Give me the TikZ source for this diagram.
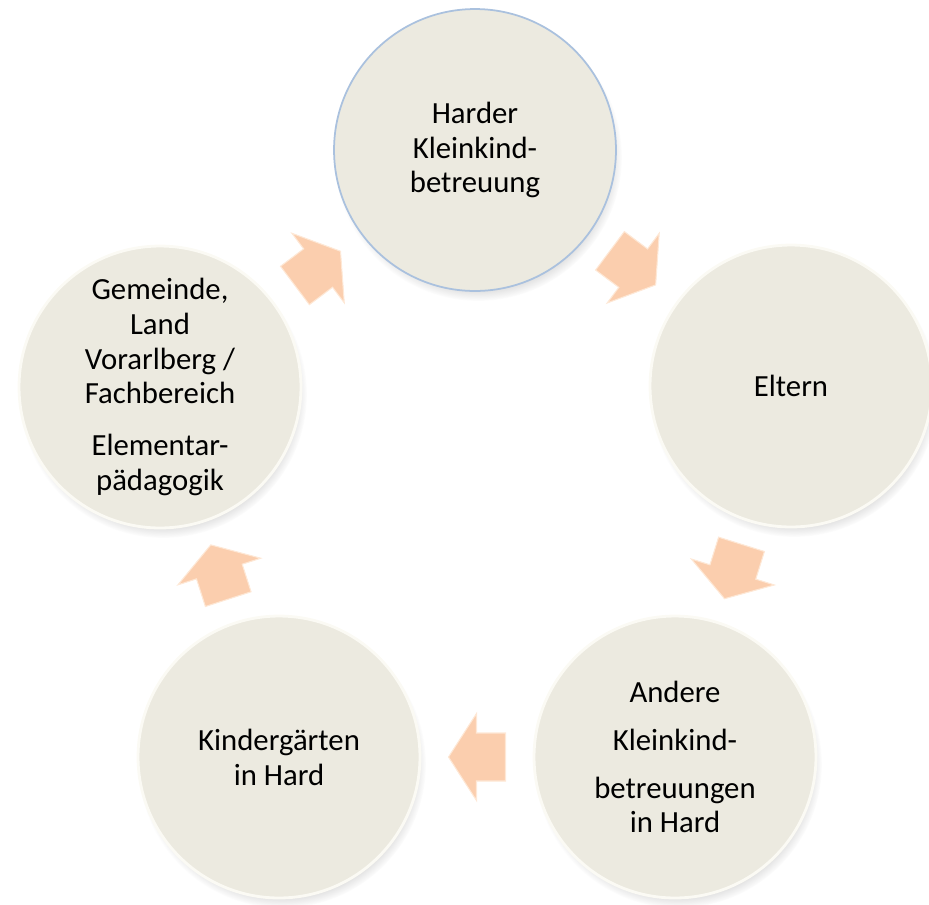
\documentclass[tikz,border=0pt]{standalone}
\usepackage{fontspec}
\setmainfont{Carlito}
\usetikzlibrary{shadows,calc,fadings}
\definecolor{circfill}{RGB}{236,234,224}
\definecolor{circrim}{RGB}{251,250,244}
\definecolor{toprim}{RGB}{170,193,222}
\definecolor{arrfill}{RGB}{251,206,174}
\definecolor{arrrim}{RGB}{254,232,214}
\begin{document}
\begin{tikzpicture}[x=0.02cm,y=-0.02cm,
  stage/.style={circle, minimum size=5.64cm, inner sep=0pt, fill=circfill,
    draw=circrim, line width=1.6pt, align=center,
    font=\fontsize{17.5}{19.85}\selectfont,
    circular drop shadow={shadow xshift=0.6mm, shadow yshift=-1.4mm, shadow scale=1.02, opacity=0.45}},
  topstage/.style={stage, draw=toprim, line width=1pt},
  blockarrow/.pic={\filldraw[fill=arrfill, draw=arrrim, line width=0.6pt]
    (28.5,0) -- (0.5,43.5) -- (0.5,24) -- (-28.5,24) -- (-28.5,-24)
    -- (0.5,-24) -- (0.5,-43.5) -- cycle;}
]
\useasboundingbox (0,0) rectangle (929,904);

\node[topstage] (harder) at (475,150) {Harder\\Kleinkind-\\betreuung};
\node[stage] (eltern) at (791,386) {Eltern};
\node[stage] (andere) at (675,757) {Andere\\[0.26cm]Kleinkind-\\[0.26cm]betreuungen\\in Hard};
\node[stage] (kiga) at (279,757) {Kindergärten\\in Hard};
\node[stage] (gemeinde) at (160,387) {Gemeinde,\\Land\\Vorarlberg /\\Fachbereich\\[0.34cm]Elementar-\\pädagogik};

\path (harder) -- pic[midway, sloped, allow upside down]{blockarrow} (eltern);
\path (eltern) -- pic[midway, sloped, allow upside down]{blockarrow} (andere);
\path (andere) -- pic[midway, sloped, allow upside down]{blockarrow} (kiga);
\path (kiga) -- pic[midway, sloped, allow upside down]{blockarrow} (gemeinde);
\path (gemeinde) -- pic[midway, sloped, allow upside down]{blockarrow} (harder);
\end{tikzpicture}
\end{document}
